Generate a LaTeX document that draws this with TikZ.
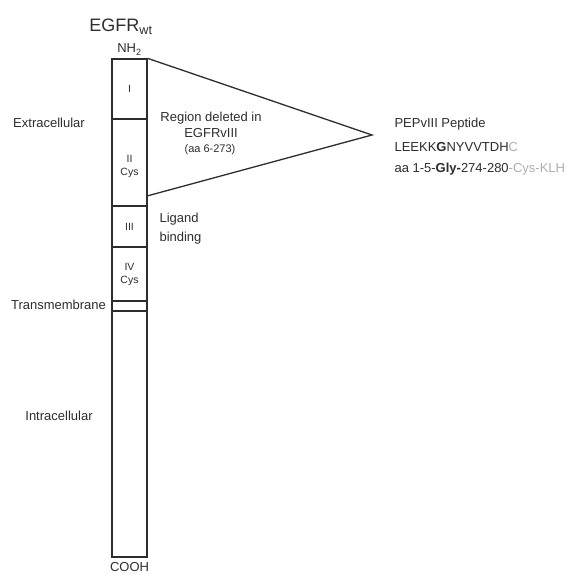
\documentclass[tikz,border=0pt]{standalone}
\usepackage{fontspec}
\setmainfont{Liberation Sans}
\definecolor{inkgray}{RGB}{45,45,45}
\definecolor{palegray}{RGB}{175,175,175}
\tikzset{
 domainbox/.style={draw=inkgray, line width=1.3pt, minimum width=35pt, inner sep=0pt,
 text=inkgray, align=center, font={\fontsize{10.5}{12}\selectfont}},
 sidelabel/.style={text=inkgray, font={\fontsize{13}{13}\selectfont}},
}
\begin{document}
\begin{tikzpicture}[x=1pt,y=-1pt]

\useasboundingbox (0,0) rectangle (571,575);

\node [text=inkgray, font={\fontsize{18}{18}\selectfont}] (title) at (121,27) {EGFR\textsubscript{wt}};

% the receptor bar
\node [domainbox, minimum height=60pt] (dom1) at (129.5,89) {I};
\node [domainbox, minimum height=87pt] (dom2) at (129.5,162.5) {\rule{0pt}{15pt}II\\[1pt]Cys};
\node [domainbox, minimum height=41pt] (dom3) at (129.5,226.5) {III};
\node [domainbox, minimum height=54pt] (dom4) at (129.5,274) {IV\\[1pt]Cys};
\node [domainbox, minimum height=10pt] (tm) at (129.5,306) {};
\node [domainbox, minimum height=246pt] (intra) at (129.5,434) {};

\node [sidelabel] (nterm) at (129.5,49.5) {NH\textsubscript{2}};
\node [sidelabel] (cterm) at (129.5,567) {COOH};

\node [sidelabel] (extra) at (49,123) {Extracellular};
\node [sidelabel] (trans) at (58.5,305) {Transmembrane};
\node [sidelabel] (intrac) at (59,416) {Intracellular};

\node [sidelabel, anchor=west, align=left, font={\fontsize{13}{19}\selectfont}] (ligand) at (156,228.5) {Ligand\\binding};

% deleted region
\coordinate (apex) at (372,135);
\coordinate (cut) at (147,196);
\draw [inkgray, line width=1.3pt, line join=miter] (dom1.north east) -- (apex) -- (cut);

\node [sidelabel, align=center, font={\fontsize{13}{16}\selectfont}] (deleted) at (211,125) {Region deleted in\\EGFRvIII};
\node [text=inkgray, font={\fontsize{11}{11}\selectfont}] (range) at (210,150) {(aa 6-273)};

% peptide
\node [sidelabel, anchor=west] (pep) at (391,124) {PEPvIII Peptide};
\node [sidelabel, anchor=west] (seq) at (391,147) {LEEKK\textbf{G}NYVVTDH\textcolor{palegray}{C}};
\node [sidelabel, anchor=west] (conj) at (391,169) {aa 1-5-\textbf{Gly-}274-280\textcolor{palegray}{-Cys-KLH}};

\end{tikzpicture}
\end{document}
